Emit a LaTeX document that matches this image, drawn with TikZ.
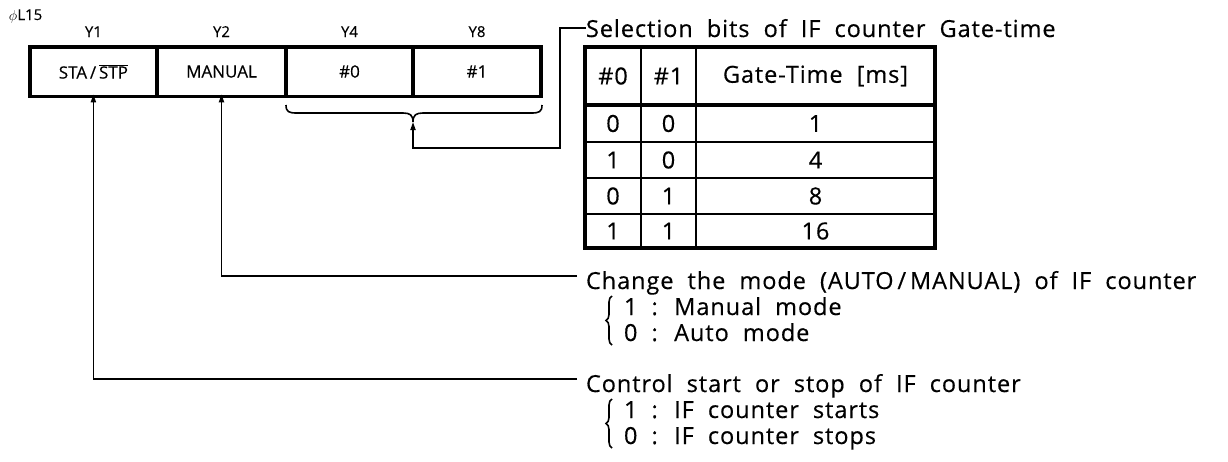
\documentclass[tikz,border=0pt]{standalone}
\usepackage{fontspec}
\setmainfont{Open Sans}[FakeBold=0.3]
\newfontfamily\widefont{Open Sans}[LetterSpace=4,WordSpace={2.0},FakeBold=0.4]
\usetikzlibrary{arrows.meta,decorations.pathreplacing}
\begin{document}
\begin{tikzpicture}[x=1pt,y=-1pt,
  every node/.style={inner sep=0pt,outer sep=0pt},
  conn/.style={line width=1.7pt},
  arr/.style={conn,-{Triangle[length=8pt,width=5pt]}},
  regcell/.style={minimum height=49.5pt,font=\fontsize{17}{20}\selectfont},
  bitlbl/.style={anchor=base,font=\fontsize{15}{17}\selectfont},
  tcell/.style={font=\widefont\fontsize{23.5}{28}\selectfont},
  txt/.style={anchor=base west,font=\widefont\fontsize{23.5}{28}\selectfont},
  thickframe/.style={line width=3.5pt},
  thinrule/.style={line width=2pt},
  bracestyle/.style={line width=1.6pt}
]
\useasboundingbox (0,0) rectangle (1228,461);

% ---- register ----
\node[anchor=base west,font=\fontsize{15}{17}\selectfont] (phi) at (9,20) {$\phi$L15};
\node[bitlbl] (y1) at (93.4,37) {Y1};
\node[bitlbl] (y2) at (221.5,37) {Y2};
\node[bitlbl] (y4) at (349.5,37) {Y4};
\node[bitlbl] (y8) at (477,37) {Y8};

\node[regcell,minimum width=127.25pt] (sta) at (93.4,71.5) {STA\,/\,$\overline{\hbox{STP}}$};
\node[regcell,minimum width=129pt] (man) at (221.5,71.5) {MANUAL};
\node[regcell,minimum width=127pt] (b0) at (349.5,71.5) {\#0};
\node[regcell,minimum width=128.25pt] (b1) at (477,71.5) {\#1};

\draw[thickframe] (sta.north west) rectangle (b1.south east);
\draw[thickframe] (sta.north east) -- (sta.south east);
\draw[thickframe] (man.north east) -- (man.south east);
\draw[thickframe] (b0.north east) -- (b0.south east);

% brace under #0 / #1
\coordinate (bt) at (413,122);
\draw[bracestyle] (286,105) .. controls (286,112) and (289,113) .. (297,113) -- (403,113)
  .. controls (410,113) and (413,115) .. (bt)
  .. controls (413,115) and (416,113) .. (423,113) -- (531,113)
  .. controls (539,113) and (542,112) .. (542,105);

% ---- table ----
\node[tcell,minimum width=56pt,minimum height=58pt] (h0) at (613,76) {\#0};
\node[tcell,minimum width=55pt,minimum height=58pt] (h1) at (668.5,76) {\#1};
\node[tcell,minimum width=239pt,minimum height=58pt] (hg) at (815.5,76) {Gate-Time\ [ms]};

\node[tcell] (r1a) at (613,123.5) {0};
\node[tcell] (r1b) at (668.5,123.5) {0};
\node[tcell] (r1c) at (815.5,123.5) {1};
\node[tcell] (r2a) at (613,160) {1};
\node[tcell] (r2b) at (668.5,160) {0};
\node[tcell] (r2c) at (815.5,160) {4};
\node[tcell] (r3a) at (613,196) {0};
\node[tcell] (r3b) at (668.5,196) {1};
\node[tcell] (r3c) at (815.5,196) {8};
\node[tcell] (r4a) at (613,231) {1};
\node[tcell] (r4b) at (668.5,231) {1};
\node[tcell] (r4c) at (815.5,231) {16};

\draw[thinrule] (641,47) -- (641,248);
\draw[thinrule] (696,47) -- (696,248);
\draw[thinrule] (585,142) -- (935,142);
\draw[thinrule] (585,178) -- (935,178);
\draw[thinrule] (585,214) -- (935,214);
\draw[line width=3.5pt] (585,105) -- (935,105);
\draw[line width=4pt] (585,47) rectangle (935,248);

% ---- selection label ----
\node[txt] (sel) at (586,37) {Selection bits of IF counter Gate-time};
\coordinate (selpt) at (586,28);
\coordinate (sc) at (560,148);
\draw[arr] (selpt) -| (sc) -| (bt);

% ---- mode label ----
\node[txt] (chg) at (586,289) {Change the mode (AUTO\,/\,MANUAL) of IF counter};
\coordinate (chgpt) at (577,276);
\draw[arr,shorten >=-2pt] (chgpt) -| (man.south);
\draw[bracestyle,decorate,decoration={brace,amplitude=6pt}] (612,345) -- (612,296);
\node[txt] (m1) at (624,315) {1 : Manual mode};
\node[txt] (m0) at (624,341) {0 : Auto mode};

% ---- start/stop label ----
\node[txt] (ctl) at (586,392) {Control start or stop of IF counter};
\coordinate (ctlpt) at (577,379);
\draw[arr,shorten >=-2pt] (ctlpt) -| (sta.south);
\draw[bracestyle,decorate,decoration={brace,amplitude=6pt}] (612,448) -- (612,399);
\node[txt] (s1) at (624,418) {1 : IF counter starts};
\node[txt] (s0) at (624,444) {0 : IF counter stops};
\end{tikzpicture}
\end{document}
